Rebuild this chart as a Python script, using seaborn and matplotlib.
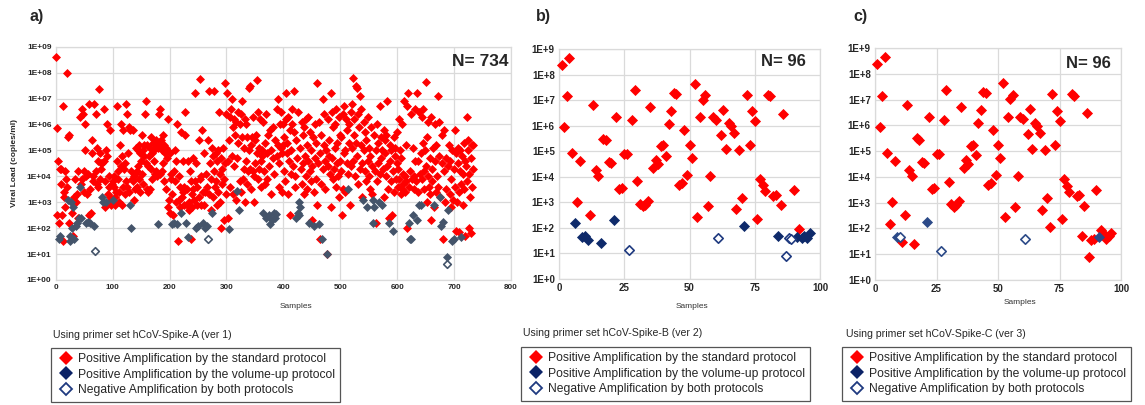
import numpy as np
import pandas as pd
import matplotlib
matplotlib.use("Agg")
import matplotlib.pyplot as plt
import seaborn as sns
from matplotlib.lines import Line2D
from matplotlib.ticker import NullLocator

sns.set_theme(style="white")
plt.rcParams["font.family"] = ["Liberation Sans", "DejaVu Sans"]

# ---------------- DATA ----------------
# Panel a: hCoV-Spike-A, log10(copies/ml) per sample 1..734
a_log10 = [
    8.6, 5.85, 2.5, 4.6, 2.2, 1.6, 4.3, 1.7, 3.7, 4.3, 2.5, 1.5, 6.7, 3.4, 3.2, 4.2, 2.8, 3.9, 8.0, 3.6,
    3.1, 5.5, 5.6, 2.2, 1.5, 1.7, 3.0, 2.6, 2.0, 1.7, 2.8, 3.2, 1.6, 3.9, 3.0, 2.1, 2.2, 3.3, 4.2, 2.4,
    2.4, 3.6, 6.3, 3.7, 2.4, 6.6, 3.9, 6.4, 4.2, 3.4, 6.0, 5.0, 4.0, 2.2, 3.3, 4.1, 2.25, 2.5, 6.8, 3.5,
    2.2, 2.6, 5.4, 4.9, 4.0, 3.8, 2.1, 6.8, 1.1, 6.4, 4.2, 3.7, 5.1, 4.6, 3.6, 7.35, 4.9, 3.9, 4.5, 4.3,
    3.2, 4.5, 3.0, 6.6, 4.6, 2.8, 3.8, 3.0, 5.0, 6.0, 4.8, 3.3, 3.6, 4.0, 3.2, 5.8, 3.1, 2.9, 3.7, 3.1,
    3.8, 3.6, 4.0, 3.2, 2.9, 3.4, 6.7, 4.6, 4.2, 3.9, 3.4, 3.0, 5.2, 6.0, 4.4, 4.8, 2.9, 3.6, 5.8, 4.3,
    4.5, 3.3, 3.8, 6.8, 6.4, 3.6, 4.9, 3.4, 5.9, 2.9, 5.8, 2.0, 4.2, 3.9, 5.8, 3.8, 4.0, 3.1, 3.5, 4.1,
    5.1, 4.2, 3.6, 5.0, 4.4, 3.9, 5.2, 4.9, 3.4, 4.6, 5.6, 4.1, 3.7, 5.0, 4.8, 5.2, 6.4, 6.9, 4.5, 3.5,
    5.2, 4.4, 3.4, 4.8, 3.5, 5.1, 4.3, 5.5, 4.9, 3.9, 5.3, 4.6, 5.0, 4.1, 5.3, 5.4, 4.2, 4.0, 5.1, 2.15,
    6.4, 5.2, 6.6, 4.1, 5.4, 4.2, 5.0, 5.6, 4.5, 3.8, 5.2, 4.9, 3.5, 5.1, 4.7, 5.0, 2.8, 6.2, 3.1, 2.6,
    4.9, 3.9, 4.1, 2.15, 3.3, 2.5, 4.2, 2.2, 3.8, 5.0, 4.6, 3.0, 2.15, 6.0, 1.5, 3.1, 4.0, 2.8, 3.6, 5.7,
    2.6, 3.2, 4.6, 3.4, 2.9, 3.6, 5.6, 6.5, 2.2, 3.5, 2.9, 4.6, 1.65, 3.0, 2.7, 4.2, 3.8, 1.6, 2.8, 3.3,
    3.5, 4.7, 3.1, 3.8, 7.2, 2.0, 4.5, 2.9, 3.6, 2.1, 5.4, 3.2, 7.75, 3.9, 4.0, 2.9, 5.8, 2.2, 3.4, 4.9,
    2.9, 2.0, 3.4, 4.1, 2.1, 3.6, 1.6, 5.4, 3.3, 7.3, 4.5, 2.7, 3.9, 5.1, 2.6, 4.8, 3.2, 7.3, 4.2, 3.6,
    4.9, 3.8, 2.9, 4.6, 5.0, 3.4, 6.5, 4.1, 3.0, 2.0, 4.7, 3.7, 4.3, 5.1, 2.3, 3.9, 4.5, 7.6, 3.3, 6.4,
    7.2, 4.6, 2.4, 5.4, 1.95, 6.3, 3.6, 6.6, 4.8, 7.0, 5.9, 3.3, 6.2, 4.4, 5.6, 3.1, 6.1, 3.45, 4.7, 6.5,
    5.3, 2.7, 3.8, 6.0, 6.4, 3.4, 5.5, 6.9, 3.9, 5.1, 4.3, 6.2, 3.0, 4.6, 6.0, 5.5, 3.7, 4.2, 5.0, 7.4,
    7.5, 4.3, 5.2, 3.5, 5.5, 4.2, 6.3, 4.0, 3.0, 5.4, 4.5, 5.6, 7.7, 4.9, 6.5, 3.9, 5.1, 4.3, 6.2, 4.6,
    3.6, 5.0, 4.8, 6.1, 2.6, 4.2, 5.3, 3.7, 2.4, 6.4, 4.9, 3.9, 5.6, 2.5, 4.4, 5.8, 2.15, 3.3, 5.0, 2.3,
    4.7, 5.9, 2.6, 4.1, 2.4, 5.4, 2.55, 6.6, 4.8, 7.0, 5.2, 3.6, 4.5, 6.0, 6.5, 5.1, 3.4, 4.9, 5.2, 6.0,
    4.2, 5.5, 3.8, 6.2, 7.2, 4.9, 5.3, 3.3, 6.3, 4.6, 5.8, 2.5, 5.0, 4.1, 6.0, 6.6, 4.4, 7.3, 5.7, 4.0,
    3.6, 5.4, 2.4, 4.7, 2.6, 6.5, 3.0, 2.5, 5.1, 2.8, 4.3, 6.1, 3.7, 5.6, 4.5, 3.3, 5.9, 4.8, 6.2, 4.0,
    5.2, 3.5, 4.6, 6.3, 2.2, 4.2, 5.7, 3.8, 5.0, 4.4, 2.3, 5.5, 2.1, 3.4, 6.0, 4.7, 5.3, 3.9, 2.9, 7.6,
    4.5, 2.15, 6.1, 4.9, 1.6, 5.6, 3.7, 1.6, 7.0, 4.3, 5.2, 6.4, 4.6, 3.5, 5.0, 1.0, 1.0, 4.4, 6.2, 4.8,
    5.4, 4.1, 7.2, 2.8, 6.5, 4.7, 3.9, 5.9, 4.3, 6.0, 5.1, 3.6, 6.6, 4.5, 5.3, 4.0, 6.3, 3.2, 5.6, 4.6,
    4.2, 5.5, 2.5, 6.4, 3.5, 4.9, 6.7, 5.0, 3.4, 6.2, 4.5, 5.8, 3.5, 4.1, 6.0, 5.3, 2.9, 6.5, 4.4, 5.1,
    6.8, 4.6, 7.8, 5.6, 6.2, 4.0, 5.3, 7.5, 4.8, 7.4, 6.4, 3.7, 5.9, 4.3, 7.1, 5.2, 6.6, 4.5, 3.2, 3.1,
    5.0, 6.1, 4.2, 5.7, 3.8, 5.4, 2.8, 4.6, 6.3, 4.0, 5.1, 3.5, 4.8, 5.9, 3.3, 4.4, 3.1, 2.2, 5.6, 2.8,
    4.2, 5.0, 2.2, 3.8, 6.0, 4.5, 5.3, 3.0, 4.1, 6.7, 4.7, 5.5, 2.9, 5.0, 4.3, 5.8, 3.2, 4.9, 5.4, 4.0,
    5.6, 6.9, 4.4, 3.5, 2.4, 2.2, 5.2, 4.6, 3.8, 5.0, 2.5, 1.9, 4.2, 5.5, 3.4, 4.8, 5.1, 3.9, 4.5, 5.7,
    3.6, 4.3, 6.2, 3.9, 5.0, 3.3, 4.7, 3.5, 6.0, 4.1, 3.7, 6.9, 4.0, 3.4, 5.2, 3.8, 6.7, 2.0, 7.2, 2.2,
    3.6, 1.6, 4.2, 1.6, 6.4, 3.9, 5.1, 2.5, 4.0, 3.5, 6.6, 4.6, 3.8, 2.3, 7.2, 4.6, 3.4, 2.9, 6.5, 4.1,
    2.9, 4.9, 6.3, 3.9, 5.3, 6.6, 4.2, 3.5, 5.0, 7.65, 4.4, 3.0, 5.5, 4.0, 6.1, 3.6, 4.7, 3.3, 2.3, 6.3,
    4.3, 3.8, 5.1, 2.8, 2.9, 4.6, 6.0, 3.4, 5.2, 4.0, 3.6, 7.1, 6.1, 4.8, 3.2, 3.2, 2.1, 4.5, 5.6, 2.25,
    1.6, 5.8, 4.2, 3.0, 4.7, 3.5, 0.6, 0.9, 4.4, 2.7, 5.2, 3.3, 4.6, 2.8, 3.9, 5.0, 1.5, 3.1, 4.3, 1.6,
    5.8, 3.6, 4.9, 1.9, 3.0, 4.5, 5.1, 3.4, 1.85, 4.2, 5.0, 1.65, 3.7, 4.8, 2.9, 4.1, 5.3, 3.5, 4.6, 1.7,
    4.4, 6.3, 3.8, 5.0, 5.4, 2.0, 4.1, 3.2, 4.7, 1.8, 3.6, 5.2, 4.3, 5.2,
]
a_volume_up = [6, 8, 21, 25, 26, 27, 29, 31, 33, 36, 37, 41, 42, 45, 54, 57, 61, 67, 81, 83, 88,
               100, 130, 132, 180, 204, 208, 213, 221, 229, 233, 246, 250, 258, 262, 265, 275,
               305, 318, 322, 365, 369, 374, 377, 380, 383, 385, 387, 423, 425, 427, 428, 430,
               445, 453, 462, 468, 476, 513, 540, 547, 557, 558, 560, 568, 573, 586, 592, 620,
               622, 624, 628, 634, 638, 641, 665, 676, 677, 680, 688, 690, 697, 700, 712]
a_negative = [69, 267, 687]

# Panel b: hCoV-Spike-B, samples 1..96
b_log10 = [
    8.39, 5.94, 7.15, 8.65, 4.93, 2.19, 3.02, 4.6, 1.65, 1.67,
    1.52, 2.52, 6.8, 4.25, 4.02, 1.41, 5.49, 5.45, 4.58, 4.55,
    2.29, 6.34, 3.54, 3.56, 4.9, 4.89, 1.13, 6.21, 7.38, 3.82,
    2.94, 2.85, 2.9, 3.07, 6.73, 4.35, 4.67, 4.51, 5.19, 5.23,
    4.83, 6.08, 6.59, 7.28, 7.25, 3.69, 3.76, 5.82, 4.08, 5.23,
    4.74, 7.63, 2.43, 6.34, 7.02, 7.19, 2.85, 4.02, 6.33, 6.24,
    1.6, 5.65, 6.63, 5.09, 6.1, 5.97, 5.71, 2.72, 5.06, 3.17,
    2.06, 7.21, 5.25, 6.56, 6.17, 2.36, 3.92, 3.66, 3.43, 7.21,
    7.15, 3.24, 3.3, 1.7, 2.89, 6.47, 0.89, 1.6, 1.57, 3.5,
    1.66, 1.96, 1.62, 1.68, 1.62, 1.8,
]
b_volume_up = [6, 9, 10, 11, 16, 21, 71, 84, 91, 93, 94, 95, 96]
b_negative = [27, 61, 87, 88, 89]

# Panel c: hCoV-Spike-C, samples 1..96
c_log10 = [
    8.39, 5.94, 7.15, 8.65, 4.93, 2.17, 3.02, 4.6, 1.65, 1.68,
    1.46, 2.52, 6.8, 4.25, 4.02, 1.38, 5.49, 5.45, 4.58, 4.55,
    2.26, 6.34, 3.54, 3.56, 4.9, 4.89, 1.12, 6.21, 7.38, 3.82,
    2.94, 2.85, 2.9, 3.07, 6.73, 4.35, 4.67, 4.51, 5.19, 5.23,
    4.83, 6.08, 6.59, 7.28, 7.25, 3.69, 3.76, 5.82, 4.08, 5.23,
    4.74, 7.63, 2.43, 6.34, 7.02, 7.19, 2.85, 4.02, 6.33, 6.24,
    1.59, 5.65, 6.63, 5.09, 6.1, 5.97, 5.71, 2.72, 5.06, 3.17,
    2.07, 7.21, 5.25, 6.56, 6.17, 2.36, 3.92, 3.66, 3.43, 7.21,
    7.15, 3.24, 3.3, 1.7, 2.89, 6.47, 0.9, 1.55, 1.59, 3.5,
    1.68, 1.95, 1.8, 1.6, 1.7, 1.82,
]
c_volume_up = [9, 21, 91]
c_negative = [10, 27, 61]

status_labels = ["Positive Amplification by the standard protocol",
                 "Positive Amplification by the volume-up protocol",
                 "Negative Amplification by both protocols"]
ytick_a = ["1E+00", "1E+01", "1E+02", "1E+03", "1E+04", "1E+05", "1E+06", "1E+07", "1E+08", "1E+09"]
ytick_bc = ["1E+0", "1E+1", "1E+2", "1E+3", "1E+4", "1E+5", "1E+6", "1E+7", "1E+8", "1E+9"]

assert len(a_log10) == 734


def make_df(logs, vol, neg):
    n = len(logs)
    samples = np.arange(1, n + 1)
    status = np.array(["std"] * n, dtype=object)
    status[np.array(vol) - 1] = "vol"
    status[np.array(neg) - 1] = "neg"
    return pd.DataFrame({"sample": samples, "load": 10.0 ** np.array(logs), "status": status})


df_a = make_df(a_log10, a_volume_up, a_negative)
df_b = make_df(b_log10, b_volume_up, b_negative)
df_c = make_df(c_log10, c_volume_up, c_negative)

# ---------------- FIGURE ----------------
W, H = 1145, 405
fig = plt.figure(figsize=(W / 100, H / 100), dpi=100)
fig.patch.set_facecolor("white")


def fax(l, t, r, b):
    return fig.add_axes([l / W, 1 - b / H, (r - l) / W, (b - t) / H])


ax_a = fax(55.7, 46.7, 511, 280)
ax_b = fax(559, 49, 820, 279)
ax_c = fax(875, 48, 1121, 280)

RED = "#FF0000"


def draw(ax, df, blue, open_edge, size):
    sns.scatterplot(data=df[df.status == "std"], x="sample", y="load", ax=ax, color=RED,
                    marker="D", s=size, linewidth=0, clip_on=False, zorder=3, legend=False)
    sns.scatterplot(data=df[df.status == "vol"], x="sample", y="load", ax=ax, color=blue,
                    marker="D", s=size, linewidth=0, clip_on=False, zorder=4, legend=False)
    sns.scatterplot(data=df[df.status == "neg"], x="sample", y="load", ax=ax, color="white",
                    edgecolor=open_edge, marker="D", s=size * 0.72, linewidth=1.2,
                    clip_on=False, zorder=5, legend=False)


draw(ax_a, df_a, "#44546A", "#44546A", 21)
draw(ax_b, df_b, "#0E2A6A", "#1F3A80", 32)
draw(ax_c, df_c, "#2C4A88", "#2C4A88", 32)


def style(ax, xmax, xstep, ylabels, yfs, xfs):
    ax.set_yscale("log")
    ax.set_ylim(1, 1e9)
    ax.set_xlim(0, xmax)
    ax.set_yticks([10.0 ** k for k in range(10)])
    ax.set_yticklabels(ylabels)
    ax.yaxis.set_minor_locator(NullLocator())
    ax.set_xticks(list(range(0, xmax + 1, xstep)))
    ax.set_axisbelow(True)
    ax.grid(True, color="#DADADA", lw=0.9)
    for sp in ax.spines.values():
        sp.set_color("#DADADA")
        sp.set_linewidth(0.9)
    ax.tick_params(axis="both", length=0, pad=3)
    for lab in ax.get_yticklabels():
        lab.set_fontsize(yfs)
        lab.set_fontweight("bold")
    for lab in ax.get_xticklabels():
        lab.set_fontsize(xfs)
        lab.set_fontweight("bold")
    ax.set_xlabel("")
    ax.set_ylabel("")


style(ax_a, 800, 100, ytick_a, 6.0, 5.8)
style(ax_b, 100, 25, ytick_bc, 7.0, 7.0)
style(ax_c, 100, 25, ytick_bc, 7.0, 7.0)


def ftext(x, y, s, **kw):
    fig.text(x / W, 1 - y / H, s, **kw)


# panel letters
ftext(29, 16, "a)", fontsize=11.5, fontweight="bold", va="center")
ftext(536, 17, "b)", fontsize=11.5, fontweight="bold", va="center")
ftext(853, 17, "c)", fontsize=11.5, fontweight="bold", va="center")

# N labels
ftext(508, 62, "N= 734", fontsize=12.5, fontweight="bold", ha="right", va="center")
ftext(806, 62, "N= 96", fontsize=12, fontweight="bold", ha="right", va="center")
ftext(1111, 63, "N= 96", fontsize=12, fontweight="bold", ha="right", va="center")

# axis labels
ftext(296, 307, "Samples", fontsize=6, color="#333333", ha="center", va="center")
ftext(692, 307, "Samples", fontsize=6, color="#333333", ha="center", va="center")
ftext(1020, 302, "Samples", fontsize=6, color="#333333", ha="center", va="center")
ftext(15, 163, "Viral Load (copies/ml)", fontsize=6, fontweight="bold", rotation=90,
      ha="center", va="center")

# captions
ftext(53, 335, "Using primer set hCoV-Spike-A (ver 1)", fontsize=7.6, va="center")
ftext(523, 333, "Using primer set hCoV-Spike-B (ver 2)", fontsize=7.6, va="center")
ftext(846, 334, "Using primer set hCoV-Spike-C (ver 3)", fontsize=7.6, va="center")

NAVY = "#0B2266"
handles = [
    Line2D([], [], marker="D", ls="", markersize=7.6, mfc=RED, mec=RED, mew=0),
    Line2D([], [], marker="D", ls="", markersize=7.6, mfc=NAVY, mec=NAVY, mew=0),
    Line2D([], [], marker="D", ls="", markersize=6.4, mfc="white", mec="#1F3A80", mew=1.3),
]
for (lx, ty) in [(51, 348), (521, 347), (842, 347)]:
    leg = fig.legend(handles, status_labels, loc="upper left",
                     bbox_to_anchor=(lx / W, 1 - ty / H), frameon=True, fancybox=False,
                     edgecolor="#555555", framealpha=1, fontsize=8.75, handlelength=1.55,
                     handletextpad=0.25, labelspacing=0.3, borderpad=0.42,
                     borderaxespad=0)
    leg.get_frame().set_linewidth(0.9)

fig.savefig("out.png", dpi=100, facecolor="white")
